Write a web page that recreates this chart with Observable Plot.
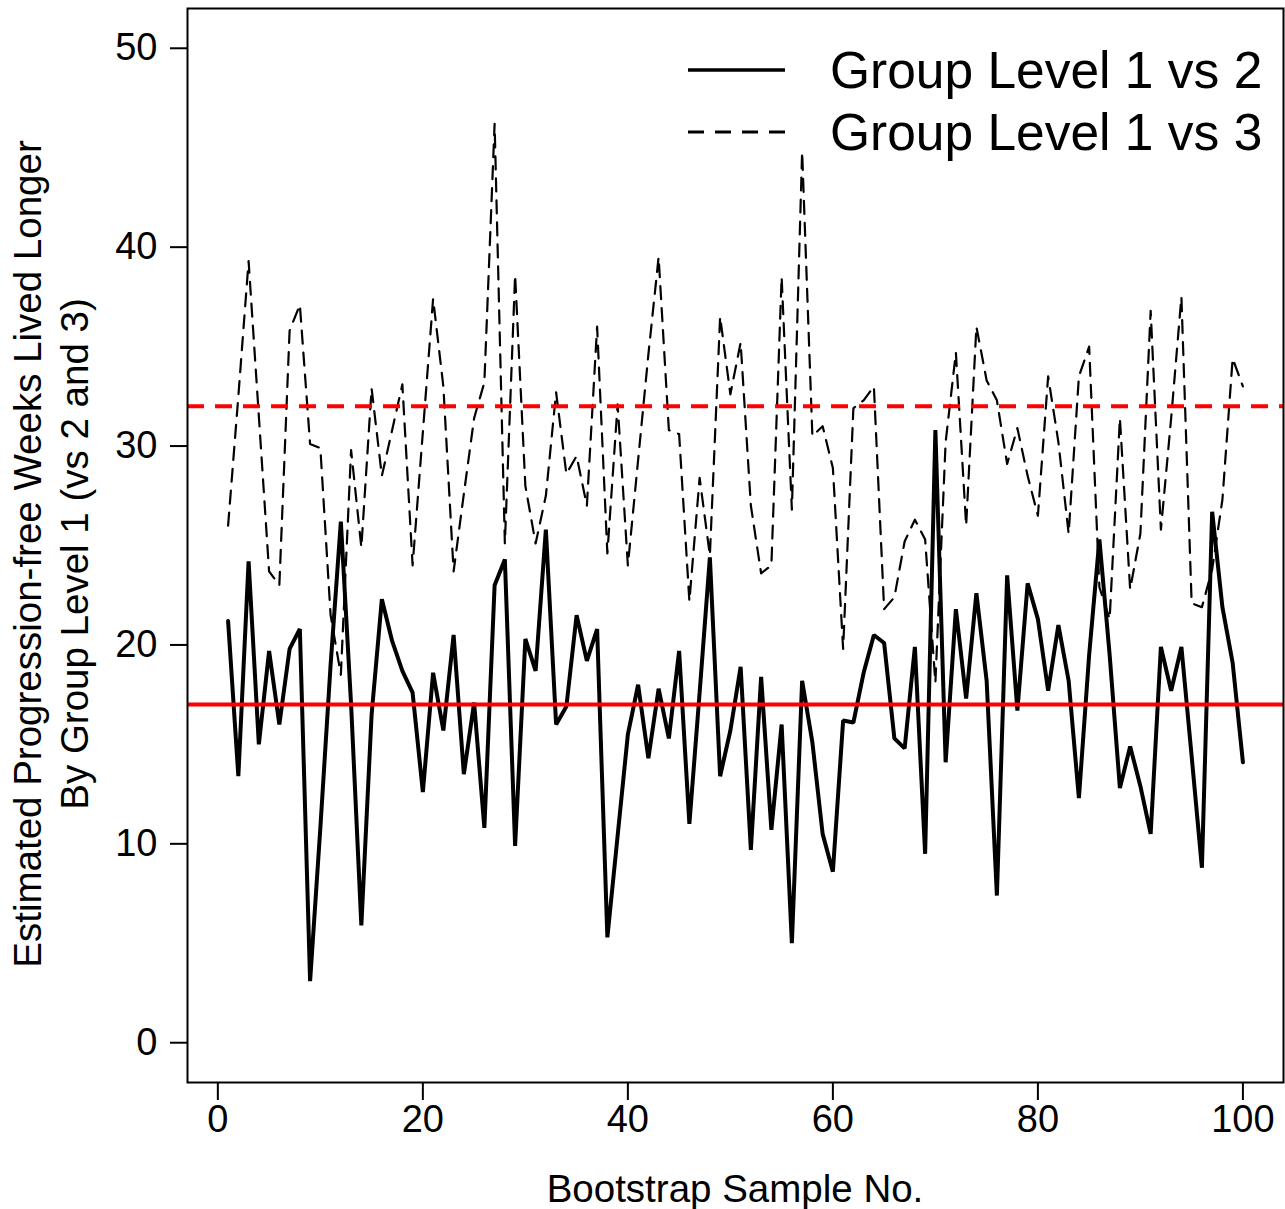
<!DOCTYPE html>
<html>
<head>
<meta charset="utf-8">
<script src="https://cdn.jsdelivr.net/npm/d3@7"></script>
<script src="https://cdn.jsdelivr.net/npm/@observablehq/plot@0.6"></script>
<style>
  html, body { margin: 0; padding: 0; background: #fff; }
  #wrap { position: relative; width: 1285px; height: 1209px; font-family: "Liberation Sans", Arial, sans-serif; }
  #legend { position: absolute; left: 680px; top: 40px; }
</style>
</head>
<body>
<div id="wrap"><div id="chart"></div><svg id="legend" width="600" height="130"></svg></div>
<script>
// Bootstrap sample numbers
const samples = d3.range(1, 101);

// Group Level 1 vs 2 (solid black)
const vs2 = [
  21.2, 13.4, 24.2, 15.0, 19.7, 16.0, 19.8, 20.8, 3.1, 10.8,
  19.0, 26.2, 17.0, 5.9, 16.5, 22.3, 20.2, 18.7, 17.6, 12.6,
  18.6, 15.7, 20.5, 13.5, 17.1, 10.8, 23.0, 24.3, 9.9, 20.3,
  18.7, 25.8, 16.0, 16.9, 21.5, 19.2, 20.8, 5.3, 10.4, 15.5,
  18.0, 14.3, 17.8, 15.3, 19.7, 11.0, 17.6, 24.4, 13.4, 15.7,
  18.9, 9.7, 18.4, 10.7, 16.0, 5.0, 18.2, 15.1, 10.5, 8.6,
  16.2, 16.1, 18.6, 20.5, 20.1, 15.3, 14.8, 19.9, 9.5, 30.8,
  14.1, 21.8, 17.3, 22.6, 18.2, 7.4, 23.5, 16.7, 23.1, 21.3,
  17.7, 21.0, 18.2, 12.3, 19.5, 25.3, 19.5, 12.8, 14.9, 12.9,
  10.5, 19.9, 17.7, 19.9, 14.4, 8.8, 26.7, 21.9, 19.1, 14.1
];

// Group Level 1 vs 3 (dashed black)
const vs3 = [
  26.0, 32.5, 39.3, 31.5, 23.7, 23.0, 35.8, 37.1, 30.1, 29.9,
  21.5, 18.5, 29.8, 24.9, 32.9, 28.5, 30.8, 33.1, 24.0, 30.7,
  37.4, 33.0, 23.7, 27.6, 31.4, 33.2, 46.2, 25.1, 38.6, 28.0,
  25.1, 27.5, 32.7, 28.6, 29.5, 27.0, 36.0, 24.6, 32.1, 24.0,
  29.3, 34.6, 39.5, 30.8, 30.6, 22.2, 28.4, 24.5, 36.5, 32.6,
  35.2, 27.0, 23.6, 24.0, 38.5, 26.8, 44.8, 30.5, 31.0, 28.9,
  19.8, 31.9, 32.3, 33.0, 21.8, 22.4, 25.2, 26.3, 25.3, 18.1,
  30.2, 34.7, 26.0, 36.0, 33.3, 32.3, 29.1, 30.9, 28.5, 26.5,
  33.5, 30.2, 25.6, 33.5, 35.0, 22.9, 21.3, 31.4, 22.8, 25.6,
  36.8, 25.8, 31.4, 37.5, 22.1, 21.9, 23.8, 27.3, 34.4, 33.0
];

// Reference (mean) lines
const refValues = [17, 32];
const refDash = ["none", "17,11"];

const xTicks = [0, 20, 40, 60, 80, 100];
const yTicks = [0, 10, 20, 30, 40, 50];

const legendLabels = ["Group Level 1 vs 2", "Group Level 1 vs 3"];

const xLabel = "Bootstrap Sample No.";
const yLabel1 = "Estimated Progression-free Weeks Lived Longer";
const yLabel2 = "By Group Level 1 (vs 2 and 3)";

const rows2 = samples.map((s, i) => ({s, v: vs2[i]}));
const rows3 = samples.map((s, i) => ({s, v: vs3[i]}));
const refs = refValues.map((v, i) => ({v, dash: refDash[i]}));

const font = "'Liberation Sans', Arial, sans-serif";

const chart = Plot.plot({
  width: 1285,
  height: 1209,
  marginLeft: 187,
  marginRight: 2,
  marginTop: 8,
  marginBottom: 127,
  style: {fontFamily: font, fontSize: "38px", color: "black", background: "white"},
  x: {domain: [-2.96, 103.96]},
  y: {domain: [-2, 52]},
  marks: [
    Plot.axisX({ticks: xTicks, tickSize: 18, tickPadding: 5, strokeWidth: 2, label: null, fontSize: 38}),
    Plot.axisY({ticks: yTicks, tickSize: 17, tickPadding: 13, strokeWidth: 2, label: null, fontSize: 38}),
    Plot.lineY(rows3, {x: "s", y: "v", stroke: "black", strokeWidth: 2.2, strokeDasharray: "13,9"}),
    Plot.lineY(rows2, {x: "s", y: "v", stroke: "black", strokeWidth: 4, strokeLinejoin: "miter"}),
    Plot.ruleY([refs[0]], {y: "v", stroke: "#ff0000", strokeWidth: 4}),
    Plot.ruleY([refs[1]], {y: "v", stroke: "#ff0000", strokeWidth: 4, strokeDasharray: refs[1].dash}),
    Plot.frame({stroke: "black", strokeWidth: 2})
  ]
});
document.getElementById("chart").appendChild(chart);

// axis titles
const svg = d3.select(chart);
svg.append("text")
  .attr("x", (187 + 1283) / 2).attr("y", 1202)
  .attr("text-anchor", "middle")
  .style("font-family", font).style("font-size", "38.5px").attr("fill", "black")
  .text(xLabel);
const cy = 554;
svg.append("text")
  .attr("transform", `translate(41,${cy}) rotate(-90)`)
  .attr("text-anchor", "middle")
  .style("font-family", font).style("font-size", "38.5px").attr("fill", "black")
  .text(yLabel1);
svg.append("text")
  .attr("transform", `translate(88,${cy}) rotate(-90)`)
  .attr("text-anchor", "middle")
  .style("font-family", font).style("font-size", "38.5px").attr("fill", "black")
  .text(yLabel2);

// legend
const lg = d3.select("#legend");
const rowsY = [30, 92];
legendLabels.forEach((lab, i) => {
  lg.append("line")
    .attr("x1", 8).attr("x2", 105).attr("y1", rowsY[i]).attr("y2", rowsY[i])
    .attr("stroke", "black").attr("stroke-width", i === 0 ? 3.5 : 3)
    .attr("stroke-dasharray", i === 0 ? null : "16,11");
  lg.append("text")
    .attr("x", 150).attr("y", rowsY[i] + 18)
    .style("font-family", font).style("font-size", "51.5px").attr("fill", "black")
    .text(lab);
});
</script>
</body>
</html>
